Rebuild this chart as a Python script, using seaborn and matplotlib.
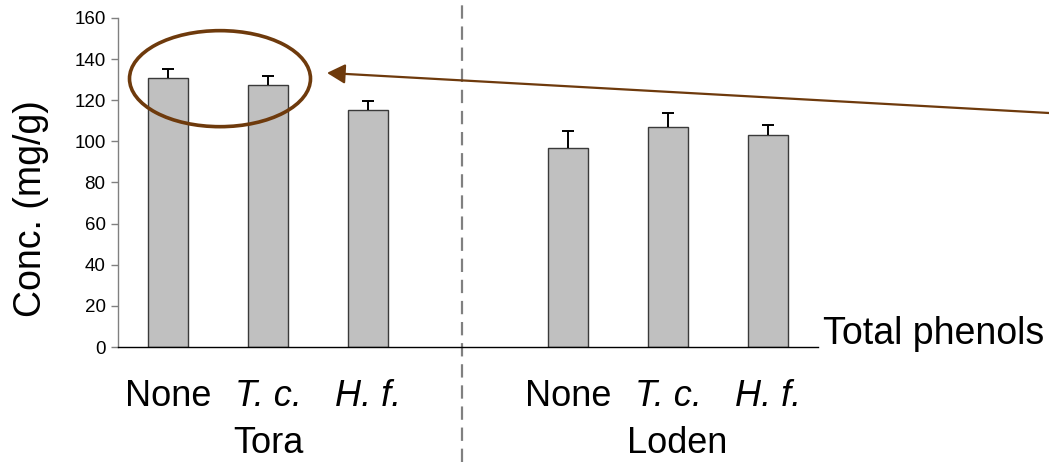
import matplotlib
matplotlib.use("Agg")
import matplotlib.pyplot as plt
import seaborn as sns
import pandas as pd
from matplotlib.patches import Ellipse

# ---- data ----
groups = ["Tora", "Tora", "Tora", "Loden", "Loden", "Loden"]
treatments = ["None", "T. c.", "H. f.", "None", "T. c.", "H. f."]
means = [130.7, 127.4, 115.5, 96.6, 106.8, 103.0]
errors = [4.5, 4.3, 4.3, 8.5, 7.2, 5.0]
yticks = [0, 20, 40, 60, 80, 100, 120, 140, 160]
series_label = "Total phenols"
ylabel = "Conc. (mg/g)"

sns.set_style("white")
plt.rcParams["font.family"] = ["Liberation Sans", "DejaVu Sans"]
plt.rcParams["text.color"] = "black"
plt.rcParams["axes.labelcolor"] = "black"
plt.rcParams["ytick.color"] = "black"

keys = [f"{g} {t}" for g, t in zip(groups, treatments)]
df = pd.DataFrame({"key": keys, "value": means})
order = keys[:3] + ["gap"] + keys[3:]

fig = plt.figure(figsize=(10.49, 4.62), dpi=100)
ax = fig.add_axes([118 / 1049, 115 / 462, 700 / 1049, 329 / 462])

sns.barplot(data=df, x="key", y="value", order=order, ax=ax, width=0.4,
            color="#C0C0C0", saturation=1, edgecolor="#3a3a3a", linewidth=1.0,
            errorbar=None)

xpos = [order.index(k) for k in keys]
eb = ax.errorbar(xpos, means, yerr=[[0] * len(errors), errors], fmt="none",
                 ecolor="black", elinewidth=1.4, capsize=4.5, capthick=1.4,
                 zorder=3)
# hide the lower caps (only upper error shown)
if len(eb[1]) >= 2:
    eb[1][0].set_visible(False)

ax.set_xlim(-0.5, 6.5)
ax.set_ylim(0, 160)
ax.set_yticks(yticks)
ax.set_yticklabels([str(v) for v in yticks], fontsize=13.5, color="black")
ax.tick_params(axis="y", direction="out", length=5, width=1, color="#808080",
               pad=4, left=True, labelcolor="black")
ax.tick_params(axis="x", length=0, labelbottom=False)
ax.set_xlabel("")
ax.set_ylabel(ylabel, fontsize=27, color="black")
ax.yaxis.set_label_coords(-0.099, 0.42)
for s in ["top", "right"]:
    ax.spines[s].set_visible(False)
ax.spines["left"].set_color("#808080")
ax.spines["left"].set_linewidth(1)
ax.spines["bottom"].set_color("black")
ax.spines["bottom"].set_linewidth(1)

trans = ax.get_xaxis_transform()
for x, t in zip(xpos, treatments):
    style = "normal" if t == "None" else "italic"
    ax.text(x, -0.179, t, transform=trans, ha="center", va="baseline",
            fontsize=26, fontstyle=style, clip_on=False, color="black")
tora_x = [p for p, g in zip(xpos, groups) if g == "Tora"]
loden_x = [p for p, g in zip(xpos, groups) if g == "Loden"]
ax.text(sum(tora_x) / 3, -0.322, "Tora", transform=trans, ha="center",
        va="baseline", fontsize=26, color="black")
ax.text(sum(loden_x) / 3 + 0.09, -0.322, "Loden", transform=trans, ha="center",
        va="baseline", fontsize=26, color="black")

ax.text(6.55, 0.01, series_label, transform=trans, ha="left", va="baseline",
        fontsize=27, clip_on=False, color="black")

# dashed separator
ax.plot([2.94, 2.94], [-0.35, 1.06], transform=trans, color="#808080",
        linestyle=(0, (6, 3.5)), linewidth=1.6, clip_on=False, zorder=1)

# annotation ellipse and arrow
brown = "#6E3A0C"
ax.add_patch(Ellipse((0.52, 130.5), 1.81, 46.7, fill=False, edgecolor=brown,
                     linewidth=2.6, zorder=4, clip_on=False))
ax.annotate("", xy=(1.59, 133.3), xytext=(8.81, 113.8),
            arrowprops=dict(arrowstyle="-|>,head_length=1.1,head_width=0.6",
                            mutation_scale=10, color=brown, linewidth=1.6,
                            shrinkA=0, shrinkB=0),
            annotation_clip=False, zorder=4)

fig.savefig("out.png", dpi=100)
